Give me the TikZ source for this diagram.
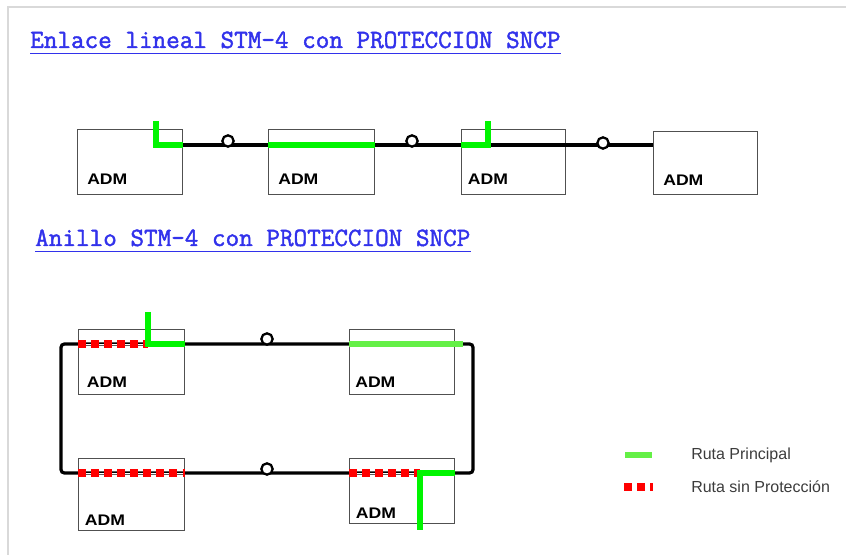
\documentclass[tikz,border=0pt]{standalone}
\usepackage{fontspec}
\setmainfont{Liberation Sans}
\newfontfamily\admfont{Liberation Sans}[FakeStretch=1.15]
\newfontfamily\titulofont{Latin Modern Mono}[FakeBold=1.6]
\usetikzlibrary{positioning}

\definecolor{azultit}{RGB}{50,50,235}
\definecolor{verdefuerte}{RGB}{0,245,0}
\definecolor{verdeclaro}{RGB}{100,240,70}
\definecolor{rojoruta}{RGB}{255,0,0}
\definecolor{borde}{RGB}{80,80,80}
\definecolor{textoley}{RGB}{60,60,60}

\begin{document}
\begin{tikzpicture}[x=0.75pt, y=-0.75pt,
    adm/.style={draw=borde, line width=1pt, anchor=north west, inner sep=0pt,
                minimum width=78.75pt, minimum height=48.75pt},
    admtxt/.style={font=\admfont\bfseries\fontsize{11.5}{12}\selectfont,
                   inner sep=0pt, text depth=0pt},
    enlace/.style={line width=2.4pt, black},
    anilla/.style={draw=black, line width=1.7pt, circle, fill=white,
                   inner sep=0pt, minimum size=8.5pt},
    principal/.style={line width=5.2pt, verdefuerte},
    principalclaro/.style={line width=5.2pt, verdeclaro},
    sinprot/.style={line width=5.6pt, rojoruta, dash pattern=on 6pt off 3.8pt,
                    preaction={draw=white, solid}},
    titulo/.style={font=\titulofont\fontsize{19.8}{22}\selectfont,
                   text=azultit, anchor=base west, inner sep=0pt},
    subrayado/.style={azultit, line width=1.2pt},
    leyenda/.style={font=\fontsize{12}{14}\selectfont, text=textoley,
                    anchor=west, inner sep=0pt}]
    \useasboundingbox (0,0) rectangle (846,555);
    % marco de la hoja
    \draw[gray!30, line width=1pt] (8,555) -- (8,7) -- (846,7);

    % Enlace lineal
    \node[titulo] (tit1) at (30,48) {Enlace lineal STM-4 con PROTECCION SNCP};
    \draw[subrayado] ([yshift=-4pt]tit1.base west) -- ([yshift=-4pt]tit1.base east);

    \node[adm] (b1) at (77,129) {};
    \node[adm, minimum width=79.5pt] (b2) at (268,129) {};
    \node[adm, minimum width=78pt] (b3) at (461,129) {};
    \node[adm, minimum width=78pt, minimum height=47.25pt] (b4) at (653,131) {};
    \node[admtxt, above right=8pt and 7.5pt of b1.south west] (a1) {ADM};
    \node[admtxt, above right=8pt and 7.5pt of b2.south west] (a2) {ADM};
    \node[admtxt, above right=8pt and 5pt of b3.south west] (a3) {ADM};
    \node[admtxt, above right=7.5pt and 7.5pt of b4.south west] (a4) {ADM};

    \draw[enlace] (b1.east |- 0,145) -- (b4.west |- 0,145);
    \node[anilla] (o1) at (228,141) {};
    \node[anilla] (o2) at (412,141) {};
    \node[anilla] (o3) at (603,143) {};

    % Ruta principal
    \draw[principal] (156,121) |- (b1.east |- 0,145);
    \draw[principal] (b2.west |- 0,145) -- (b2.east |- 0,145);
    \draw[principal] (b3.west |- 0,145) -| (488,121);

    % Anillo
    \node[titulo] (tit2) at (35,246) {Anillo STM-4 con PROTECCION SNCP};
    \draw[subrayado] ([yshift=-4pt]tit2.base west) -- ([yshift=-4pt]tit2.base east);

    \node[adm, minimum width=79.5pt] (r1) at (78,329) {};
    \node[adm] (r2) at (349,329) {};
    \node[adm, minimum width=79.5pt, minimum height=54pt] (r3) at (78,458) {};
    \node[adm] (r4) at (349,458) {};
    \node[admtxt, above right=5.5pt and 6.5pt of r1.south west] (a5) {ADM};
    \node[admtxt, above right=6pt and 4.5pt of r2.south west] (a6) {ADM};
    \node[admtxt, above right=4pt and 5pt of r3.south west] (a7) {ADM};
    \node[admtxt, above right=4pt and 5pt of r4.south west] (a8) {ADM};

    \coordinate (esqA) at (61,344);
    \coordinate (esqB) at (473,473);
    \draw[enlace, rounded corners=2.5pt] (esqA) rectangle (esqB);
    \node[anilla] (o4) at (267,339) {};
    \node[anilla] (o5) at (267,469) {};

    % Rutas del anillo
    \draw[sinprot] (r1.west |- 0,344) -- (148,344);
    \draw[principal] (148,312) |- (r1.east |- 0,344);
    \draw[principalclaro] (r2.west |- 0,344) -- (463,344);
    \draw[sinprot] (r3.west |- 0,473) -- (r3.east |- 0,473);
    \draw[sinprot] (r4.west |- 0,473) -- (420,473);
    \draw[principal] (r4.east |- 0,473) -| (420,530);

    % Leyenda
    \node[leyenda] (ley1) at (691,455) {Ruta Principal};
    \node[leyenda] (ley2) at (691,487) {Ruta sin Protección};
    \draw[principalclaro] ([xshift=-49.5pt]ley1.west) -- ([xshift=-29.25pt]ley1.west);
    \draw[sinprot] ([xshift=-50.25pt]ley2.west) -- ([xshift=-28.5pt]ley2.west);
\end{tikzpicture}
\end{document}
